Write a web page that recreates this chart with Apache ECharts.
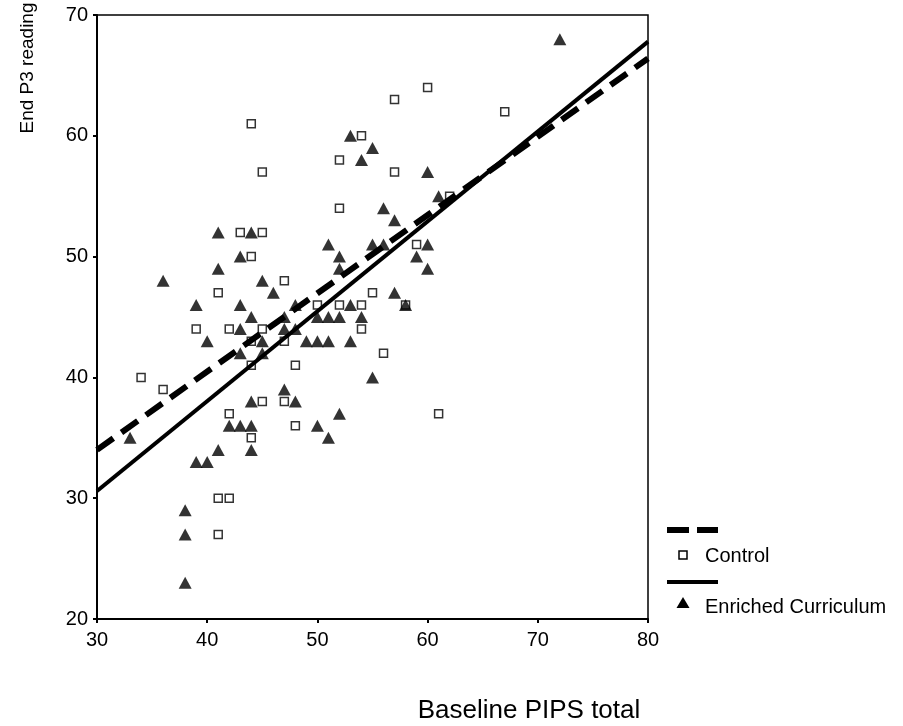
<!DOCTYPE html>
<html>
<head>
<meta charset="utf-8">
<script src="https://cdn.jsdelivr.net/npm/echarts@6/dist/echarts.min.js"></script>
<style>
html,body{margin:0;padding:0;background:#fff;}
#c{width:903px;height:726px;}
</style>
</head>
<body>
<div id="c"></div>
<script>
// Control group (open squares): Baseline PIPS total, End P3 reading
const controlX = [34,36,41,39,42,44,45,44,42,44,45,47,47,47,48,48,50,52,54,54,55,56,61,58,41,42,41,44,45,43,45,44,60,57,67,54,52,57,62,52,59];
const controlY = [40,39,47,44,44,43,44,41,37,35,38,38,48,43,41,36,46,46,46,44,47,42,37,46,30,30,27,61,57,52,52,50,64,63,62,60,58,57,55,54,51];
// Enriched Curriculum group (filled triangles)
const enrichedX = [72,53,55,54,60,61,56,57,51,52,55,56,60,59,52,60,45,46,57,58,48,53,50,51,52,54,47,48,45,49,50,51,53,45,55,47,48,52,50,51,43,41,36,39,43,44,47,43,40,43,44,42,43,44,33,41,44,39,40,38,38,38,41,44];
const enrichedY = [68,60,59,58,57,55,54,53,51,50,51,51,51,50,49,49,48,47,47,46,46,46,45,45,45,45,44,44,43,43,43,43,43,42,40,39,38,37,36,35,50,49,48,46,46,45,45,44,43,42,38,36,36,36,35,34,34,33,33,29,27,23,52,52];
// Fit lines (end points at axis limits)
const fitX = [30, 80];
const controlFitY = [34.0, 66.4];
const enrichedFitY = [30.6, 67.8];
// Axis ticks
const xTicks = [30, 40, 50, 60, 70, 80];
const yTicks = [20, 30, 40, 50, 60, 70];

const FONT = 'Liberation Sans, Arial, sans-serif';
const zip = (a, b) => a.map((v, i) => [v, b[i]]);

const chart = echarts.init(document.getElementById('c'), null, {renderer: 'canvas'});
chart.setOption({
  backgroundColor: '#fff',
  animation: false,
  grid: {left: 97, top: 15, right: 255, bottom: 107, show: true, borderColor: '#000', borderWidth: 1.5, backgroundColor: '#fff'},
  xAxis: {
    type: 'value', min: xTicks[0], max: xTicks[xTicks.length - 1], interval: 10,
    axisLine: {show: true, lineStyle: {color: '#000', width: 2}},
    axisTick: {show: true, inside: false, length: 4, lineStyle: {color: '#000', width: 2}},
    splitLine: {show: false},
    axisLabel: {color: '#000', fontSize: 20, fontFamily: FONT, margin: 11}
  },
  yAxis: {
    type: 'value', min: yTicks[0], max: yTicks[yTicks.length - 1], interval: 10,
    axisLine: {show: true, lineStyle: {color: '#000', width: 2}},
    axisTick: {show: true, inside: false, length: 4, lineStyle: {color: '#000', width: 2}},
    splitLine: {show: false},
    axisLabel: {color: '#000', fontSize: 20, fontFamily: FONT, margin: 9}
  },
  series: [
    {
      name: 'Control', type: 'scatter', data: zip(controlX, controlY),
      symbol: 'rect', symbolSize: 8,
      itemStyle: {color: '#fff', borderColor: '#000', borderWidth: 1.5}, z: 2
    },
    {
      name: 'Enriched Curriculum', type: 'scatter', data: zip(enrichedX, enrichedY),
      symbol: 'triangle', symbolSize: [13, 12],
      itemStyle: {color: '#000'}, z: 3
    },
    {
      name: 'Control fit', type: 'line', data: zip(fitX, controlFitY), showSymbol: false,
      lineStyle: {color: '#000', width: 6, type: [20, 10]}, z: 4
    },
    {
      name: 'Enriched fit', type: 'line', data: zip(fitX, enrichedFitY), showSymbol: false,
      lineStyle: {color: '#000', width: 4, type: 'solid'}, z: 4
    }
  ],
  graphic: [
    {type: 'text', x: 529, y: 711, style: {text: 'Baseline PIPS total', fill: '#000', font: '26px ' + FONT, textAlign: 'center', textVerticalAlign: 'middle'}},
    {type: 'text', x: 28, y: 68, rotation: Math.PI / 2, style: {text: 'End P3 reading', fill: '#000', font: '19px ' + FONT, textAlign: 'center', textVerticalAlign: 'middle'}},
    {type: 'line', shape: {x1: 667, y1: 530, x2: 718, y2: 530}, style: {stroke: '#000', lineWidth: 6, lineDash: [22, 8]}},
    {type: 'rect', shape: {x: 679, y: 551, width: 8, height: 8}, style: {fill: '#fff', stroke: '#000', lineWidth: 1.5}},
    {type: 'text', style: {text: 'Control', fill: '#000', font: '20px ' + FONT, x: 705, y: 556, textVerticalAlign: 'middle'}},
    {type: 'line', shape: {x1: 667, y1: 582, x2: 718, y2: 582}, style: {stroke: '#000', lineWidth: 4}},
    {type: 'polygon', shape: {points: [[683, 597], [689.5, 608], [676.5, 608]]}, style: {fill: '#000'}},
    {type: 'text', style: {text: 'Enriched Curriculum', fill: '#000', font: '20px ' + FONT, x: 705, y: 607, textVerticalAlign: 'middle'}}
  ]
});
</script>
</body>
</html>
